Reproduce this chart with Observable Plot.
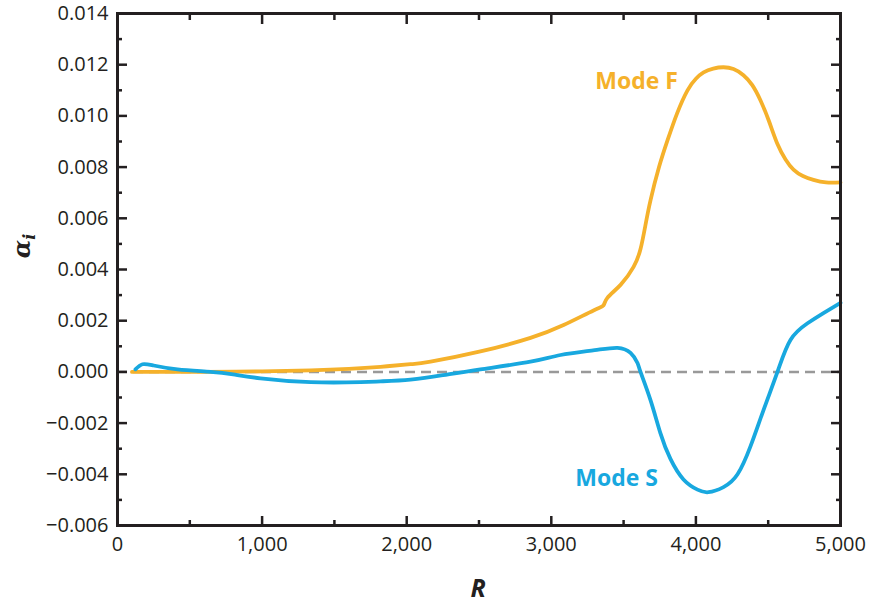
<!DOCTYPE html>
<html>
<head>
<meta charset="utf-8">
<script src="https://cdn.jsdelivr.net/npm/d3@7"></script>
<script src="https://cdn.jsdelivr.net/npm/@observablehq/plot@0.6"></script>
<style>
  html, body { margin: 0; padding: 0; background: #fff; }
</style>
</head>
<body>
<div id="chart"></div>
<script>
// Mode F (orange)
const rF = [100, 300, 600, 1000, 1335, 1600, 1819, 2026, 2165, 2510, 2856, 3085, 3292, 3361, 3389, 3479, 3569, 3617, 3650, 3686, 3745, 3804, 3870, 3942, 4000, 4053, 4120, 4191, 4260, 4329, 4390, 4447, 4505, 4564, 4620, 4675, 4740, 4813, 4900, 5000];
const modeF = [0, 0, 0, 0.00002, 0.00006, 0.00012, 0.0002, 0.0003, 0.0004, 0.0008, 0.00133, 0.00183, 0.0024, 0.0026, 0.0029, 0.0034, 0.0041, 0.0048, 0.0057, 0.0067, 0.008, 0.00905, 0.0101, 0.011, 0.01145, 0.0117, 0.01185, 0.0119, 0.01183, 0.01159, 0.0112, 0.0106, 0.0098, 0.0089, 0.0083, 0.0079, 0.00765, 0.0075, 0.0074, 0.0074];
// Mode S (blue)
const rS = [124, 173, 250, 415, 643, 800, 989, 1335, 1680, 1819, 2026, 2250, 2510, 2856, 3064, 3300, 3458, 3548, 3596, 3617, 3686, 3755, 3824, 3914, 4011, 4087, 4191, 4288, 4378, 4467, 4564, 4654, 4772, 4882, 5000];
const modeS = [0.0001, 0.0003, 0.00025, 0.0001, 0, -0.0001, -0.00025, -0.0004, -0.0004, -0.00037, -0.0003, -0.00013, 0.0001, 0.0004, 0.00066, 0.00085, 0.00094, 0.00074, 0.00035, 0, -0.0011, -0.0024, -0.0034, -0.0042, -0.0046, -0.0047, -0.0045, -0.004, -0.0029, -0.0015, 0, 0.00125, 0.0019, 0.0023, 0.0027];

const xMajor = [0, 1000, 2000, 3000, 4000, 5000];
const xMinor = [500, 1500, 2500, 3500, 4500];
const yMajor = [-0.006, -0.004, -0.002, 0, 0.002, 0.004, 0.006, 0.008, 0.010, 0.012, 0.014];
const yMinor = [-0.005, -0.003, -0.001, 0.001, 0.003, 0.005, 0.007, 0.009, 0.011, 0.013];

const orange = "#F5B12B";
const blue = "#18A8DF";
const ink = "#231f20";

const dataF = rF.map((r, i) => ({r, v: modeF[i]}));
const dataS = rS.map((r, i) => ({r, v: modeS[i]}));

const tickStyle = {stroke: ink, strokeWidth: 2.5, text: null, label: null};

const chart = Plot.plot({
  width: 872,
  height: 607,
  marginLeft: 117,
  marginRight: 32,
  marginTop: 13,
  marginBottom: 82,
  x: {domain: [0, 5000]},
  y: {domain: [-0.006, 0.014]},
  style: {fontFamily: "'Open Sans', sans-serif", fontSize: "20px", color: ink, background: "#fff"},
  marks: [
    Plot.ruleY([0], {stroke: "#999999", strokeWidth: 2.5, strokeDasharray: "10,6"}),
    Plot.line(dataF, {x: "r", y: "v", stroke: orange, strokeWidth: 3.8, curve: "natural"}),
    Plot.line(dataS, {x: "r", y: "v", stroke: blue, strokeWidth: 3.8, curve: "natural"}),
    Plot.text(["Mode F"], {x: 3590, y: 0.01132, text: d => d, fill: orange, fontSize: 23, fontWeight: 700}),
    Plot.text(["Mode S"], {x: 3452, y: -0.00418, text: d => d, fill: blue, fontSize: 23, fontWeight: 700}),
    // labels
    Plot.axisX(xMajor, {anchor: "bottom", tickSize: 0, tickPadding: 11, tickFormat: d3.format(","), label: null, fill: ink}),
    Plot.axisY(yMajor, {anchor: "left", tickSize: 0, tickPadding: 9, tickFormat: d3.format(".3f"), label: null, fill: ink}),
    // inward ticks
    Plot.axisX(xMajor, {anchor: "bottom", tickSize: -9, ...tickStyle}),
    Plot.axisX(xMinor, {anchor: "bottom", tickSize: -5, ...tickStyle}),
    Plot.axisX(xMajor, {anchor: "top", tickSize: -10, ...tickStyle}),
    Plot.axisX(xMinor, {anchor: "top", tickSize: -6, ...tickStyle}),
    Plot.axisY(yMajor, {anchor: "left", tickSize: -10, ...tickStyle}),
    Plot.axisY(yMinor, {anchor: "left", tickSize: -5, ...tickStyle}),
    Plot.axisY(yMajor, {anchor: "right", tickSize: -10, ...tickStyle}),
    Plot.axisY(yMinor, {anchor: "right", tickSize: -5, ...tickStyle}),
    Plot.frame({stroke: ink, strokeWidth: 3})
  ]
});

const svg = d3.select(chart);
// x-axis title
svg.append("text")
  .attr("x", 478).attr("y", 597)
  .attr("text-anchor", "middle")
  .attr("font-family", "'Open Sans', sans-serif")
  .attr("font-size", 25).attr("font-weight", 700).attr("font-style", "italic")
  .attr("fill", ink)
  .text("R");
// y-axis title alpha_i
const yt = svg.append("text")
  .attr("transform", "translate(30,246) rotate(-90)")
  .attr("text-anchor", "middle")
  .attr("font-family", "'DejaVu Serif', serif")
  .attr("font-size", 24).attr("font-weight", 700).attr("font-style", "italic")
  .attr("fill", ink);
yt.append("tspan").text("α");
yt.append("tspan").attr("font-size", 16).attr("dy", 5).text("i");

document.getElementById("chart").appendChild(chart);
</script>
</body>
</html>
